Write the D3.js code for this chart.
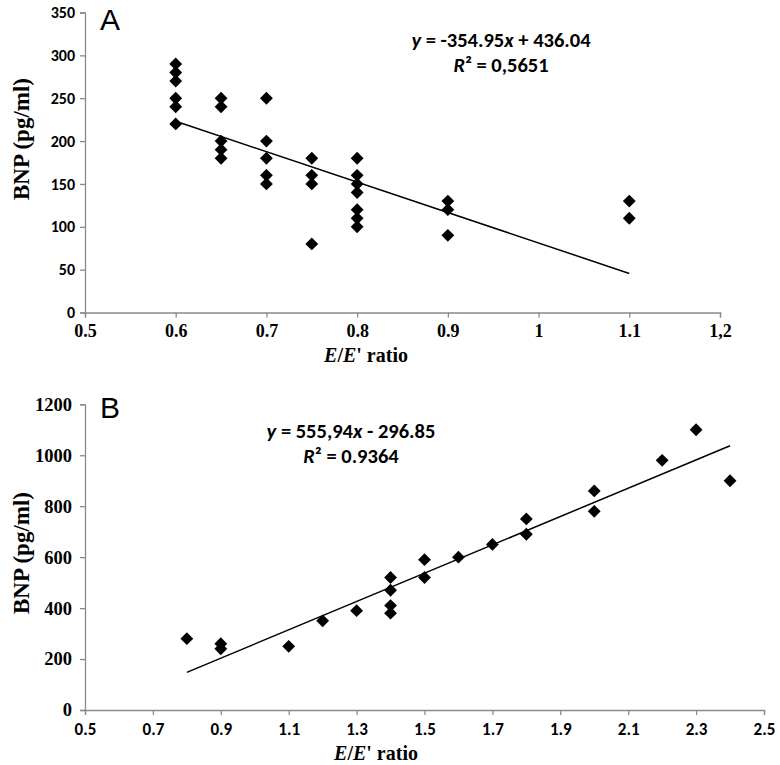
<!DOCTYPE html>
<html><head><meta charset="utf-8">
<script src="https://cdn.jsdelivr.net/npm/d3@7"></script>
<style>body{margin:0;background:#fff}svg{display:block}</style>
</head><body>
<svg id="c" width="780" height="765"></svg>
<script>
// Panel A data
const aX = [0.6,0.6,0.6,0.6,0.6,0.6, 0.65,0.65,0.65,0.65,0.65, 0.7,0.7,0.7,0.7,0.7, 0.75,0.75,0.75,0.75, 0.8,0.8,0.8,0.8,0.8,0.8,0.8, 0.9,0.9,0.9, 1.1,1.1];
const aY = [290,280,270,250,240,220, 250,240,200,190,180, 250,200,180,160,150, 180,160,150,80, 180,160,150,140,120,110,100, 130,120,90, 130,110];
const aXTicks = ["0.5","0.6","0.7","0.8","0.9","1","1.1","1,2"];
const aYTicks = [0,50,100,150,200,250,300,350];
const aFit = {slope:-354.95, intercept:436.04, x0:0.6, x1:1.1};

// Panel B data
const bX = [0.8,0.9,0.9,1.1,1.2,1.3,1.4,1.4,1.4,1.4,1.5,1.5,1.6,1.7,1.8,1.8,2.0,2.0,2.2,2.3,2.4];
const bY = [280,260,240,250,350,390,520,470,410,380,590,520,600,650,750,690,860,780,980,1100,900];
const bXTicks = [0.5,0.7,0.9,1.1,1.3,1.5,1.7,1.9,2.1,2.3,2.5];
const bYTicks = [0,200,400,600,800,1000,1200];
const bFit = {slope:555.94, intercept:-296.85, x0:0.8, x1:2.4};

const svg = d3.select("#c");
const axisColor = "#8a8a8a";
const serif = "'Liberation Serif','Times New Roman',serif";
const sans = "Carlito,Calibri,'Open Sans','Liberation Sans',sans-serif";

function panel(o){
  const g = svg.append("g");
  const x = d3.scaleLinear().domain(o.xDom).range(o.xRange);
  const y = d3.scaleLinear().domain(o.yDom).range(o.yRange);
  // y axis
  const ya = d3.axisLeft(y).tickValues(o.yTicks).tickSize(5).tickPadding(o.yPad).tickFormat(d=>d);
  const yg = g.append("g").attr("transform",`translate(${o.xRange[0]},0)`).call(ya);
  yg.select(".domain").attr("stroke",axisColor).attr("stroke-width",1.3);
  yg.selectAll(".tick line").attr("stroke",axisColor).attr("stroke-width",1.3);
  yg.selectAll("text").attr("fill","#000").style("font-family",o.yFont).style("font-weight","bold").style("font-size",o.yFs+"px");
  // x axis
  const xa = d3.axisBottom(x).tickValues(o.xTickVals).tickSize(5).tickPadding(o.xPad).tickFormat((d,i)=>o.xTickLabels[i]);
  const xg = g.append("g").attr("transform",`translate(0,${o.yRange[0]})`).call(xa);
  xg.select(".domain").attr("stroke",axisColor).attr("stroke-width",1.3);
  xg.selectAll(".tick line").attr("stroke",axisColor).attr("stroke-width",1.3);
  xg.selectAll("text").attr("fill","#000").style("font-family",o.xFont).style("font-weight","bold").style("font-size",o.xFs+"px");
  // trend line
  g.append("line")
    .attr("x1",x(o.fit.x0)).attr("y1",y(o.fit.slope*o.fit.x0+o.fit.intercept))
    .attr("x2",x(o.fit.x1)).attr("y2",y(o.fit.slope*o.fit.x1+o.fit.intercept))
    .attr("stroke","#000").attr("stroke-width",1.5);
  // points
  const sym = d3.symbol().type(d3.symbolDiamond2).size(105);
  g.selectAll("path.pt").data(o.xs.map((v,i)=>[v,o.ys[i]])).join("path")
    .attr("class","pt").attr("d",sym)
    .attr("transform",d=>`translate(${x(d[0])},${y(d[1])})`).attr("fill","#000");
  // panel letter
  g.append("text").attr("x",o.xRange[0]+15).attr("y",o.letterY).text(o.letter)
    .style("font-family","'Liberation Sans',Arial,sans-serif").style("font-size","30px").attr("fill","#000");
  // y title
  g.append("text").attr("transform",`translate(${o.yTitleX},${o.yTitleY}) rotate(-90)`)
    .attr("text-anchor","middle").style("font-family",serif).style("font-weight","bold").style("font-size","23px")
    .text("BNP (pg/ml)");
  // x title
  const xt = g.append("text").attr("x",o.xTitleX).attr("y",o.xTitleY).attr("text-anchor","middle")
    .style("font-family",serif).style("font-weight","bold").style("font-size","20px");
  xt.append("tspan").style("font-style","italic").text("E");
  xt.append("tspan").text("/");
  xt.append("tspan").style("font-style","italic").text("E");
  xt.append("tspan").text("' ratio");
  // equation
  const eq = g.append("text").attr("x",o.eqX).attr("y",o.eqY).attr("text-anchor","middle")
    .style("font-family",sans).style("font-weight","bold").style("font-size","20.5px");
  eq.append("tspan").style("font-style","italic").text("y");
  eq.append("tspan").text(o.eq1);
  eq.append("tspan").style("font-style","italic").text("x");
  eq.append("tspan").text(o.eq2);
  const r2 = g.append("text").attr("x",o.eqX).attr("y",o.eqY+25).attr("text-anchor","middle")
    .style("font-family",sans).style("font-weight","bold").style("font-size","20.5px");
  r2.append("tspan").style("font-style","italic").text("R");
  r2.append("tspan").text("² = "+o.r2);
}

panel({
  xDom:[0.5,1.2], xRange:[85,720], yDom:[0,350], yRange:[312.5,12.5],
  xTickVals:[0.5,0.6,0.7,0.8,0.9,1.0,1.1,1.2], xTickLabels:aXTicks, yTicks:aYTicks,
  yFont:sans, yFs:16, yPad:5, xFont:serif, xFs:18, xPad:7,
  xs:aX, ys:aY, fit:aFit, letter:"A", letterY:30,
  yTitleX:29, yTitleY:139, xTitleX:366, xTitleY:362,
  eqX:501, eqY:47, eq1:" = -354.95", eq2:" + 436.04", r2:"0,5651"
});
panel({
  xDom:[0.5,2.5], xRange:[85,764], yDom:[0,1200], yRange:[710,404.3],
  xTickVals:bXTicks, xTickLabels:bXTicks.map(d=>d.toFixed(1)), yTicks:bYTicks,
  yFont:serif, yFs:18.5, yPad:8, xFont:sans, xFs:17, xPad:8,
  xs:bX, ys:bY, fit:bFit, letter:"B", letterY:418,
  yTitleX:29, yTitleY:553, xTitleX:376, xTitleY:760,
  eqX:351, eqY:438, eq1:" = 555,94", eq2:" - 296.85", r2:"0.9364"
});
</script>
</body></html>
